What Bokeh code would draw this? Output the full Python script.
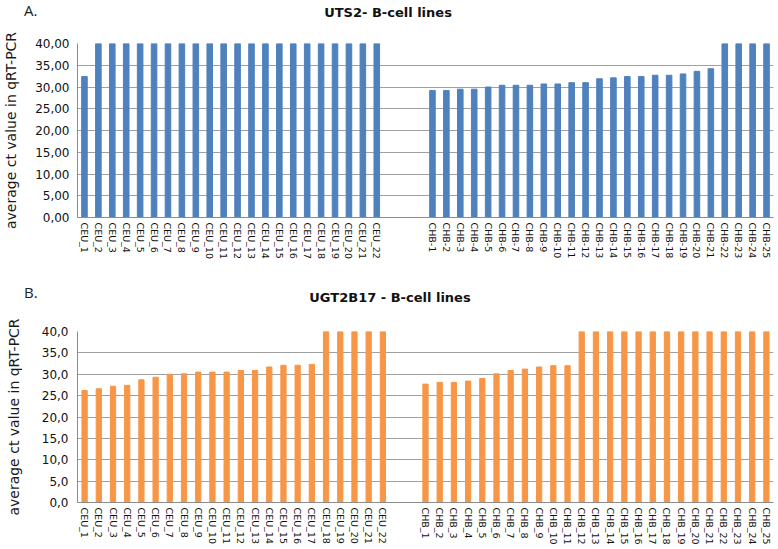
from bokeh.plotting import figure
from bokeh.models import Range1d, FixedTicker, CustomJSTickFormatter, FactorRange, Div
from bokeh.layouts import column
from bokeh.embed import file_html
from bokeh.resources import INLINE

# ---- data ----
ceu_labels = ["CEU_1", "CEU_2", "CEU_3", "CEU_4", "CEU_5", "CEU_6", "CEU_7", "CEU_8",
              "CEU_9", "CEU_10", "CEU_11", "CEU_12", "CEU_13", "CEU_14", "CEU_15",
              "CEU_16", "CEU_17", "CEU_18", "CEU_19", "CEU_20", "CEU_21", "CEU_22"]
chb_labels_a = ["CHB-1", "CHB-2", "CHB-3", "CHB-4", "CHB-5", "CHB-6", "CHB-7", "CHB-8",
                "CHB-9", "CHB-10", "CHB-11", "CHB-12", "CHB-13", "CHB-14", "CHB-15",
                "CHB-16", "CHB-17", "CHB-18", "CHB-19", "CHB-20", "CHB-21", "CHB-22",
                "CHB-23", "CHB-24", "CHB-25"]
chb_labels_b = ["CHB_1", "CHB_2", "CHB_3", "CHB_4", "CHB_5", "CHB_6", "CHB_7", "CHB_8",
                "CHB_9", "CHB_10", "CHB_11", "CHB_12", "CHB_13", "CHB_14", "CHB_15",
                "CHB_16", "CHB_17", "CHB_18", "CHB_19", "CHB_20", "CHB_21", "CHB_22",
                "CHB_23", "CHB_24", "CHB_25"]

uts2_ceu = [32.4, 40.0, 40.0, 40.0, 40.0, 40.0, 40.0, 40.0, 40.0, 40.0, 40.0,
            40.0, 40.0, 40.0, 40.0, 40.0, 40.0, 40.0, 40.0, 40.0, 40.0, 40.0]
uts2_chb = [29.2, 29.2, 29.5, 29.5, 30.0, 30.4, 30.4, 30.4, 30.7, 30.7, 31.0, 31.0,
            31.9, 32.1, 32.4, 32.4, 32.7, 32.7, 33.0, 33.6, 34.2, 40.0, 40.0, 40.0, 40.0]

ugt_ceu = [26.2, 26.6, 27.2, 27.4, 28.7, 29.3, 30.0, 30.1, 30.5, 30.5, 30.5, 30.9,
           30.9, 31.7, 32.1, 32.1, 32.3, 40.0, 40.0, 40.0, 40.0, 40.0]
ugt_chb = [27.7, 28.1, 28.1, 28.4, 29.0, 30.1, 30.9, 31.2, 31.7, 32.0, 32.0, 40.0,
           40.0, 40.0, 40.0, 40.0, 40.0, 40.0, 40.0, 40.0, 40.0, 40.0, 40.0, 40.0, 40.0]

y_ticks = [0, 5, 10, 15, 20, 25, 30, 35, 40]

BLUE = "#4F81BD"
ORANGE = "#F79646"
GRID = "#A0A0A0"
W = 778


def make_header(height, letter, letter_pos, title, title_pos):
    html = (
        '<div style="position:relative;width:%dpx;height:%dpx;margin:0;padding:0;">'
        '<span style="position:absolute;left:%dpx;top:%dpx;font-family:\'Open Sans\';'
        'font-size:15px;line-height:20px;color:#222;">%s</span>'
        '<span style="position:absolute;left:%dpx;top:%dpx;width:400px;text-align:center;'
        'font-family:\'DejaVu Sans\';font-weight:bold;font-size:13px;line-height:17px;'
        'color:#111;white-space:nowrap;">%s</span></div>'
    ) % (W, height, letter_pos[0], letter_pos[1], letter,
         title_pos[0] - 200, title_pos[1], title)
    return Div(text=html, width=W, height=height, margin=0)


def make_panel(labels1, vals1, labels2, vals2, spacers, color, decimals,
               fw, fh, b_left, b_right, b_top, b_bottom, bar_w,
               tick_standoff, label_standoff):
    factors = labels1 + spacers + labels2
    p = figure(frame_width=fw, frame_height=fh,
               x_range=FactorRange(*factors, range_padding=0),
               y_range=Range1d(0, 40), output_backend="svg", toolbar_location=None,
               min_border_left=b_left, min_border_right=b_right, min_border_top=b_top,
               min_border_bottom=b_bottom)
    p.vbar(x=labels1 + labels2, top=vals1 + vals2, width=bar_w, color=color)
    p.outline_line_color = None
    p.xgrid.grid_line_color = None
    p.ygrid.grid_line_color = GRID
    p.ygrid.ticker = FixedTicker(ticks=y_ticks)
    p.yaxis.ticker = FixedTicker(ticks=y_ticks)
    p.yaxis.formatter = CustomJSTickFormatter(
        code="return tick.toFixed(%d).replace('.', ',');" % decimals)
    for ax in (p.xaxis, p.yaxis):
        ax.axis_line_color = "#8C8C8C"
        ax.major_tick_line_color = None
        ax.minor_tick_line_color = None
        ax.major_tick_out = 0
        ax.major_tick_in = 0
        ax.minor_tick_out = 0
        ax.minor_tick_in = 0
        ax.major_label_text_font = "DejaVu Sans"
        ax.major_label_text_color = "#111111"
    p.yaxis.major_label_text_font_size = "12px"
    p.yaxis.major_label_standoff = tick_standoff
    p.xaxis.major_label_text_font_size = "9.5px"
    p.xaxis.major_label_orientation = "vertical"
    p.xaxis.major_label_standoff = 5
    p.yaxis.axis_label = "average ct value in qRT-PCR"
    p.yaxis.axis_label_text_font = "DejaVu Sans"
    p.yaxis.axis_label_text_font_size = "14px"
    p.yaxis.axis_label_text_font_style = "normal"
    p.yaxis.axis_label_text_color = "#1A1A1A"
    p.yaxis.axis_label_standoff = label_standoff
    return p


# header A: page y 0..24 ; panel A canvas 24..278 (frame top 43, bottom 217)
hA = make_header(24, "A.", (24, 0), "UTS2- B-cell lines", (388, 4))
pA = make_panel(ceu_labels, uts2_ceu, chb_labels_a, uts2_chb,
                [" ", "  ", "   "], BLUE, 2,
                696, 174, 74, 8, 19, 61, 0.4, 8, 13)
# header B: page y 278..308 ; panel B canvas 308..549 (frame top 331, bottom 502)
hB = make_header(30, "B.", (24, 4), "UGT2B17 - B-cell lines", (390, 11))
pB = make_panel(ceu_labels, ugt_ceu, chb_labels_b, ugt_chb,
                [" ", "  "], ORANGE, 1,
                696, 171, 74, 8, 23, 47, 0.37, 9, 17)

layout = column(hA, pA, hB, pB, spacing=0)
open("out.html", "w").write(file_html(layout, INLINE))
